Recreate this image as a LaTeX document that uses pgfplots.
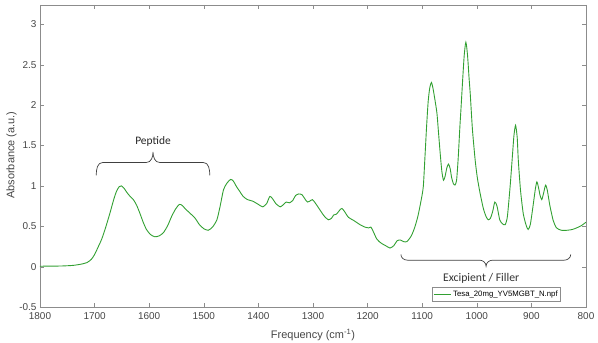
\documentclass[border=0pt]{standalone}
\usepackage{fontspec}
\setmainfont{Liberation Sans}
\newfontfamily\calib{Carlito}
\usepackage{pgfplots}
\pgfplotsset{compat=1.18}
\definecolor{curve}{RGB}{50,160,50}
\definecolor{axgray}{RGB}{140,140,140}
\definecolor{tickgray}{RGB}{70,70,70}
\begin{document}
\begin{tikzpicture}
\path[use as bounding box] (-40bp,-36bp) rectangle (558bp,307bp);
\begin{axis}[
 at={(0,0)}, anchor=south west,
 scale only axis, width=546bp, height=302bp,
 x dir=reverse, xmin=800, xmax=1800, ymin=-0.5, ymax=3.24,
 xtick={800,900,...,1800}, ytick={-0.5,0,0.5,1,1.5,2,2.5,3},
 tick align=inside, major tick length=4bp,
 axis line style={axgray}, tick style={axgray},
 ticklabel style={font=\fontsize{10}{12}\selectfont, text=tickgray},
 xticklabel style={yshift=-2.5bp},
 /pgf/number format/assume math mode=true,
 /pgf/number format/1000 sep={},
 xlabel={Frequency (cm\textsuperscript{-1})},
 ylabel={Absorbance (a.u.)},
 xlabel style={at={(axis description cs:0.5,-0.093)}, anchor=center, font=\fontsize{11}{13}\selectfont, text=tickgray},
 ylabel style={at={(axis description cs:-0.052,0.503)}, anchor=center, font=\fontsize{11}{13}\selectfont, text=tickgray},
 legend style={at={(rel axis cs:0.954,0.02)}, anchor=south east, draw=axgray, fill=white, font=\fontsize{7.8}{9}\selectfont, inner sep=1pt, row sep=0pt},
 legend cell align=left,
]
\addplot[curve, line width=0.9bp, smooth, tension=0.4] coordinates {
(1800,0.005) (1780,0.006) (1760,0.008) (1740,0.015) (1725,0.03) (1714,0.05) (1706,0.09) (1700,0.15) (1693,0.25) (1687,0.34) (1680,0.48) (1672,0.66) (1665,0.83) (1660,0.93) (1655,0.99) (1651,1.00) (1646,0.97) (1641,0.92) (1635,0.87) (1629,0.83) (1623,0.76) (1617,0.66) (1611,0.55) (1605,0.46) (1598,0.40) (1590,0.37) (1582,0.38) (1574,0.42) (1566,0.51) (1559,0.62) (1552,0.71) (1545,0.77) (1540,0.76) (1533,0.71) (1525,0.66) (1516,0.60) (1508,0.52) (1500,0.47) (1492,0.45) (1484,0.49) (1476,0.58) (1470,0.75) (1464,0.95) (1458,1.03) (1451,1.08) (1446,1.06) (1440,0.99) (1434,0.93) (1428,0.87) (1420,0.83) (1410,0.81) (1400,0.77) (1392,0.74) (1385,0.78) (1379,0.87) (1374,0.84) (1368,0.78) (1360,0.74) (1354,0.77) (1349,0.80) (1343,0.79) (1337,0.82) (1332,0.88) (1326,0.90) (1320,0.89) (1314,0.83) (1310,0.80) (1306,0.81) (1301,0.83) (1295,0.78) (1287,0.70) (1280,0.63) (1272,0.58) (1266,0.60) (1262,0.64) (1257,0.65) (1251,0.70) (1247,0.72) (1242,0.68) (1235,0.61) (1225,0.57) (1214,0.52) (1205,0.49) (1198,0.48) (1194,0.49) (1190,0.44) (1183,0.34) (1175,0.29) (1167,0.26) (1159,0.23) (1152,0.26) (1146,0.32) (1140,0.33) (1134,0.31) (1128,0.31) (1120,0.38) (1114,0.48) (1108,0.62) (1102,0.82) (1098,0.99) (1095,1.35) (1092,1.73) (1089,2.05) (1086,2.22) (1083,2.28) (1080,2.20) (1077,2.08) (1073,1.90) (1070,1.65) (1067,1.40) (1064,1.18) (1061,1.07) (1058,1.12) (1055,1.22) (1052,1.27) (1049,1.22) (1046,1.10) (1043,1.03) (1040,1.01) (1037,1.07) (1034,1.35) (1031,1.73) (1029,1.95) (1026,2.30) (1023,2.62) (1020,2.78) (1017,2.62) (1014,2.32) (1012,2.14) (1008,1.70) (1003,1.32) (999,1.10) (994,0.91) (988,0.72) (983,0.62) (979,0.58) (975,0.60) (971,0.68) (967,0.80) (963,0.75) (958,0.58) (953,0.53) (948,0.52) (944,0.62) (939,0.99) (935,1.35) (932,1.62) (929,1.75) (926,1.60) (924,1.32) (920,0.95) (915,0.66) (910,0.52) (906,0.46) (902,0.52) (897,0.75) (893,0.95) (890,1.05) (887,0.98) (884,0.88) (881,0.83) (878,0.90) (874,1.01) (871,0.95) (868,0.83) (866,0.75) (860,0.57) (854,0.48) (845,0.45) (835,0.45) (825,0.46) (817,0.48) (808,0.51) (800,0.55)
};
\addlegendentry{Tesa\_20mg\_YV5MGBT\_N.npf}
% Peptide brace
\draw[black!75, line width=0.7bp] (axis cs:1697,1.13) to[out=90,in=180] (axis cs:1685,1.29) -- (axis cs:1605,1.29) to[out=0,in=-90] (axis cs:1593,1.42) to[out=-90,in=180] (axis cs:1581,1.29) -- (axis cs:1501,1.29) to[out=0,in=90] (axis cs:1489,1.13);
\node[font=\calib\fontsize{11.5}{13}\selectfont, text=black!85] at (axis cs:1593,1.55) {Peptide};
% Excipient brace
\draw[black!75, line width=0.7bp] (axis cs:1139,0.15) to[out=-90,in=180] (axis cs:1127,0.08) -- (axis cs:995,0.08) to[out=0,in=90] (axis cs:983,0.004) to[out=90,in=180] (axis cs:971,0.08) -- (axis cs:840,0.08) to[out=0,in=-90] (axis cs:828,0.15);
\node[font=\calib\fontsize{11.8}{13}\selectfont, text=black!80] at (axis cs:992,-0.144) {Excipient / Filler};
\end{axis}
\end{tikzpicture}
\end{document}
